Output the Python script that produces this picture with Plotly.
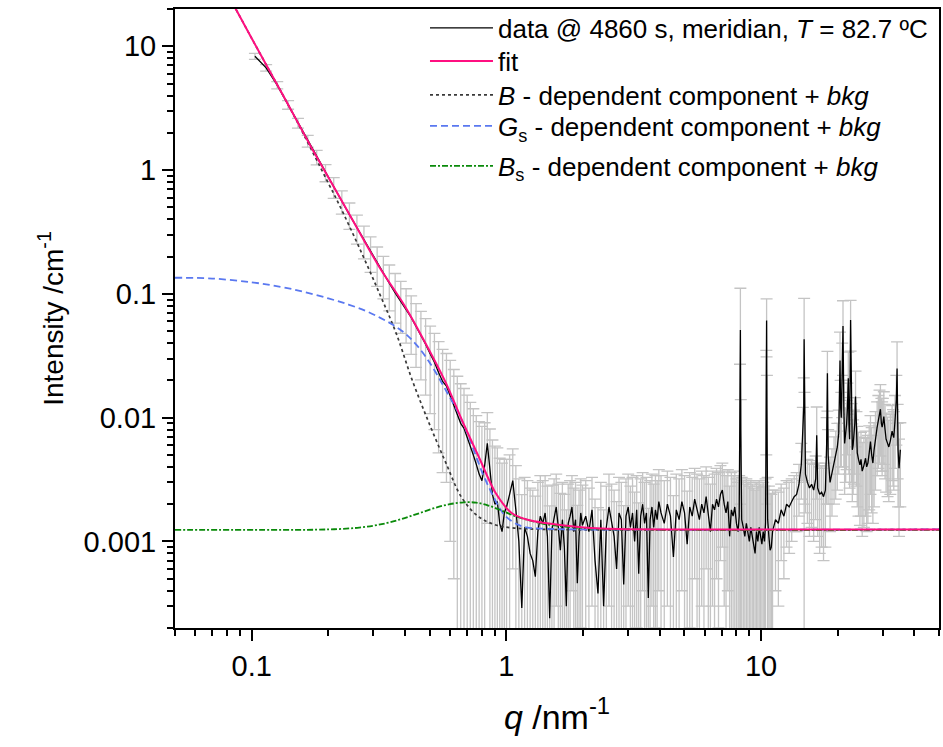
import math
import plotly.graph_objects as go

# ---------------- measured data (q in nm^-1, I in cm^-1) ----------------
q_low = [0.103, 0.114, 0.126, 0.139, 0.152, 0.166, 0.180, 0.195, 0.210, 0.226,
         0.242, 0.259, 0.276, 0.293, 0.311, 0.329, 0.347, 0.366, 0.385, 0.404,
         0.423, 0.442, 0.462, 0.482, 0.502, 0.522, 0.542, 0.562, 0.582, 0.602,
         0.622, 0.642, 0.662, 0.682, 0.702, 0.722, 0.742, 0.762, 0.782, 0.802,
         0.822, 0.842, 0.862, 0.882, 0.902, 0.922, 0.942, 0.962, 0.982, 1.002]
I_low = [8.3, 6.7, 4.85, 3.37, 2.40, 1.72, 1.27, 0.955, 0.73, 0.56,
         0.437, 0.342, 0.272, 0.219, 0.177, 0.146, 0.122, 0.102, 0.087, 0.075,
         0.0645, 0.0545, 0.0462, 0.0392, 0.0328, 0.0280, 0.0232, 0.0196, 0.0180, 0.0150,
         0.0125, 0.0106, 0.0090, 0.0082, 0.0070, 0.0058, 0.0050, 0.0042, 0.0035, 0.0031,
         0.0041, 0.0062, 0.0036, 0.0024, 0.0020, 0.0021, 0.0014, 0.0012, 0.0017, 0.0019]
err_low = [0.45, 0.40, 0.33, 0.27, 0.22, 0.19, 0.17, 0.15, 0.14, 0.12,
           0.105, 0.09, 0.08, 0.07, 0.062, 0.055, 0.049, 0.044, 0.039, 0.035,
           0.032, 0.029, 0.026, 0.024, 0.022, 0.020, 0.018, 0.016, 0.015, 0.014,
           0.012, 0.011, 0.0098, 0.009, 0.0082, 0.0075, 0.0068, 0.0062, 0.0058, 0.0054,
           0.005, 0.0048, 0.0045, 0.0042, 0.0039, 0.0036, 0.0033, 0.0031, 0.0029, 0.0027]

q_mid1 = [1.03, 1.06, 1.09, 1.12, 1.15, 1.18, 1.21, 1.24, 1.27, 1.30, 1.33,
          1.36, 1.39, 1.42, 1.45, 1.48, 1.51, 1.54, 1.57, 1.60, 1.63, 1.66,
          1.69, 1.72, 1.75, 1.78, 1.81, 1.84, 1.87, 1.90, 1.93, 1.96, 1.99]
I_mid1 = [2.4e-3, 3.1e-3, 1.8e-3, 1.0e-3, 0.29e-3, 1.3e-3, 1.1e-3, 0.8e-3, 0.7e-3, 0.52e-3, 1.2e-3,
          1.6e-3, 1.4e-3, 1.7e-3, 1.1e-3, 0.24e-3, 1.25e-3, 1.6e-3, 1.9e-3, 1.3e-3, 0.85e-3, 1.5e-3,
          0.9e-3, 0.3e-3, 1.4e-3, 1.6e-3, 1.9e-3, 1.2e-3, 1.5e-3, 0.46e-3, 1.1e-3, 1.7e-3, 1.35e-3]
err_mid1 = [2.6e-3, 2.5e-3, 2.3e-3, 2.2e-3, 2.1e-3, 2.0e-3, 2.0e-3, 1.9e-3, 1.9e-3, 1.8e-3, 1.8e-3,
            1.8e-3, 1.7e-3, 1.7e-3, 1.7e-3, 1.7e-3, 1.6e-3, 1.6e-3, 1.6e-3, 1.6e-3, 1.6e-3, 1.5e-3,
            1.5e-3, 1.5e-3, 1.5e-3, 1.5e-3, 1.5e-3, 1.5e-3, 1.5e-3, 1.5e-3, 1.5e-3, 1.5e-3, 1.5e-3]

q_mid2 = [2.05, 2.11, 2.17, 2.23, 2.29, 2.35, 2.41, 2.47, 2.53, 2.59, 2.65,
          2.71, 2.77, 2.83, 2.89, 2.95, 3.01, 3.07, 3.13, 3.19, 3.25, 3.31,
          3.37, 3.43, 3.49, 3.55, 3.61, 3.67, 3.73, 3.79, 3.85, 3.91, 3.97]
I_mid2 = [1.6e-3, 1.2e-3, 1.8e-3, 0.7e-3, 0.38e-3, 1.5e-3, 0.3e-3, 1.3e-3, 1.9e-3, 1.4e-3, 1.1e-3,
          0.6e-3, 1.7e-3, 1.5e-3, 0.45e-3, 1.6e-3, 1.9e-3, 1.3e-3, 1.7e-3, 1.0e-3, 1.8e-3, 0.55e-3,
          1.6e-3, 2.0e-3, 1.4e-3, 1.7e-3, 0.35e-3, 1.5e-3, 1.9e-3, 1.3e-3, 1.8e-3, 1.5e-3, 2.1e-3]
err_mid2 = [1.5e-3, 1.5e-3, 1.5e-3, 1.5e-3, 1.5e-3, 1.5e-3, 1.5e-3, 1.5e-3, 1.6e-3, 1.5e-3, 1.5e-3,
            1.5e-3, 1.6e-3, 1.5e-3, 1.5e-3, 1.6e-3, 1.6e-3, 1.5e-3, 1.6e-3, 1.5e-3, 1.6e-3, 1.5e-3,
            1.6e-3, 1.6e-3, 1.6e-3, 1.6e-3, 1.5e-3, 1.6e-3, 1.6e-3, 1.6e-3, 1.6e-3, 1.6e-3, 1.7e-3]

q_mid3 = [4.05, 4.17, 4.29, 4.41, 4.53, 4.65, 4.77, 4.89, 5.01, 5.13, 5.25, 5.37,
          5.49, 5.61, 5.73, 5.85, 5.97, 6.09, 6.21, 6.33, 6.45, 6.57, 6.69, 6.81,
          6.93, 7.05, 7.17, 7.29, 7.41, 7.53, 7.65, 7.77, 7.89, 8.01]
I_mid3 = [1.7e-3, 1.4e-3, 2.0e-3, 1.6e-3, 0.75e-3, 1.8e-3, 1.5e-3, 2.1e-3, 1.7e-3, 0.95e-3, 1.9e-3, 1.6e-3,
          2.2e-3, 1.8e-3, 1.5e-3, 2.0e-3, 1.7e-3, 2.3e-3, 1.6e-3, 1.2e-3, 2.0e-3, 1.8e-3, 2.2e-3, 1.9e-3,
          2.4e-3, 2.6e-3, 2.0e-3, 1.7e-3, 2.1e-3, 1.1e-3, 1.8e-3, 1.6e-3, 1.9e-3, 1.4e-3]
err_mid3 = [1.7e-3, 1.7e-3, 1.7e-3, 1.7e-3, 1.6e-3, 1.7e-3, 1.7e-3, 1.7e-3, 1.7e-3, 1.6e-3, 1.7e-3, 1.7e-3,
            1.7e-3, 1.7e-3, 1.7e-3, 1.7e-3, 1.7e-3, 1.7e-3, 1.7e-3, 1.7e-3, 1.7e-3, 1.7e-3, 1.7e-3, 1.7e-3,
            1.7e-3, 1.7e-3, 1.7e-3, 1.7e-3, 1.7e-3, 1.7e-3, 1.8e-3, 1.8e-3, 1.8e-3, 1.8e-3]

q_mid4 = [8.13, 8.21, 8.27, 8.30, 8.33, 8.40, 8.52, 8.64, 8.76, 8.88, 9.00, 9.12,
          9.24, 9.36, 9.48, 9.60, 9.72, 9.84, 9.96, 10.08, 10.20, 10.32, 10.42,
          10.49, 10.52, 10.55, 10.62, 10.74, 10.86, 10.98, 11.10]
I_mid4 = [1.2e-3, 1.6e-3, 15e-3, 51e-3, 8e-3, 1.5e-3, 1.3e-3, 1.1e-3, 1.4e-3, 1.2e-3, 1.0e-3, 1.3e-3,
          1.1e-3, 0.9e-3, 0.8e-3, 1.2e-3, 1.0e-3, 1.3e-3, 1.1e-3, 0.95e-3, 1.2e-3, 1.0e-3, 1.4e-3,
          20e-3, 61e-3, 12e-3, 1.5e-3, 1.1e-3, 0.85e-3, 0.9e-3, 1.2e-3]
err_mid4 = [1.8e-3, 1.8e-3, 12e-3, 60e-3, 6e-3, 1.8e-3, 1.8e-3, 1.8e-3, 1.8e-3, 1.8e-3, 1.8e-3, 1.8e-3,
            1.8e-3, 1.8e-3, 1.8e-3, 1.8e-3, 1.8e-3, 1.8e-3, 1.8e-3, 1.8e-3, 1.8e-3, 1.8e-3, 1.8e-3,
            15e-3, 30e-3, 10e-3, 1.8e-3, 1.7e-3, 1.6e-3, 1.5e-3, 1.4e-3]

q_high = [11.4, 11.7, 12.0, 12.3, 12.6, 12.9, 13.2, 13.5, 13.8, 14.1, 14.4, 14.6, 14.72, 14.77,
          14.82, 14.95, 15.22, 15.5, 15.8, 16.1, 16.4, 16.55, 16.7, 17.0, 17.3, 17.6, 17.9,
          18.1, 18.23, 18.35, 18.67, 19.0, 19.36, 19.65, 19.94, 20.2, 20.43, 20.55, 20.67,
          20.85, 20.99, 21.15, 21.3, 21.5, 21.68, 21.85, 22.02, 22.15, 22.28, 22.48, 22.65,
          22.83, 23.0, 23.17, 23.35, 23.51, 23.7, 23.88, 24.15, 24.46, 24.7, 24.97, 25.35,
          25.73, 26.0, 26.29, 26.6, 26.91, 27.2, 27.5, 27.8, 28.15, 28.58, 28.9, 29.2,
          29.44, 29.7, 29.9, 30.1, 30.36, 30.7, 30.99, 31.4, 31.76, 32.2, 32.72, 33.0,
          33.22, 33.6, 34.0, 34.22, 34.4, 34.53, 34.84, 35.25]
I_high = [1.5e-3, 1.4e-3, 1.8e-3, 1.6e-3, 2.0e-3, 1.9e-3, 2.1e-3, 2.3e-3, 2.4e-3, 2.9e-3, 4.2e-3, 7.6e-3, 12e-3, 43e-3,
          9e-3, 3.5e-3, 3.0e-3, 2.7e-3, 2.9e-3, 2.6e-3, 3.2e-3, 7.2e-3, 2.7e-3, 2.4e-3, 2.5e-3, 2.3e-3, 2.6e-3,
          6.0e-3, 22.8e-3, 5.0e-3, 3.0e-3, 3.6e-3, 4.5e-3, 5.0e-3, 5.8e-3, 7.5e-3, 29e-3, 12e-3, 10e-3,
          25e-3, 55e-3, 12e-3, 6.2e-3, 7.5e-3, 8.8e-3, 12e-3, 20.8e-3, 9e-3, 6.7e-3, 61.5e-3, 8e-3,
          5.5e-3, 6.0e-3, 7.2e-3, 9e-3, 14.8e-3, 7e-3, 5.2e-3, 4.6e-3, 4.15e-3, 4.6e-3, 3.7e-3, 4.1e-3,
          4.7e-3, 4.0e-3, 4.3e-3, 5.2e-3, 6.4e-3, 5.0e-3, 4.3e-3, 5.5e-3, 6.9e-3, 8.4e-3, 9.5e-3, 10.5e-3,
          11.7e-3, 9.0e-3, 8.4e-3, 9.0e-3, 10.2e-3, 8.0e-3, 6.7e-3, 6.2e-3, 5.8e-3, 6.5e-3, 7.8e-3, 7.2e-3,
          6.9e-3, 9.5e-3, 14e-3, 25e-3, 8e-3, 5.5e-3, 3.9e-3, 5.5e-3]
err_high = [1.1e-3, 1.1e-3, 1.1e-3, 1.1e-3, 1.1e-3, 1.1e-3, 1.1e-3, 1.1e-3, 1.2e-3, 1.3e-3, 2.0e-3, 4.5e-3, 9e-3, 49e-3,
            7e-3, 1.8e-3, 1.6e-3, 1.6e-3, 1.6e-3, 1.6e-3, 1.7e-3, 5.0e-3, 1.6e-3, 1.6e-3, 1.6e-3, 1.6e-3, 1.7e-3,
            4.0e-3, 11.5e-3, 3.0e-3, 1.8e-3, 2.0e-3, 2.5e-3, 2.8e-3, 3.2e-3, 4.0e-3, 20e-3, 8e-3, 6e-3,
            15e-3, 33e-3, 8e-3, 3.8e-3, 4.5e-3, 5.0e-3, 7e-3, 13e-3, 5.5e-3, 4.0e-3, 27e-3, 5.0e-3,
            3.4e-3, 3.6e-3, 4.3e-3, 5.5e-3, 9e-3, 4.2e-3, 3.3e-3, 3.0e-3, 2.8e-3, 3.0e-3, 2.6e-3, 2.8e-3,
            3.1e-3, 2.8e-3, 2.9e-3, 3.4e-3, 4.0e-3, 3.3e-3, 2.9e-3, 3.6e-3, 4.3e-3, 5.0e-3, 5.6e-3, 6.2e-3,
            6.8e-3, 5.3e-3, 5.0e-3, 5.3e-3, 6.0e-3, 4.8e-3, 4.2e-3, 3.9e-3, 3.7e-3, 4.1e-3, 4.7e-3, 4.4e-3,
            4.3e-3, 5.6e-3, 8.0e-3, 16e-3, 4.8e-3, 3.6e-3, 2.8e-3, 3.6e-3]

q_data = q_low + q_mid1 + q_mid2 + q_mid3 + q_mid4 + q_high
I_data = I_low + I_mid1 + I_mid2 + I_mid3 + I_mid4 + I_high
err_data = err_low + err_mid1 + err_mid2 + err_mid3 + err_mid4 + err_high

# ---------------- model curves ----------------
q_fit = [0.078, 0.0866, 0.10, 0.12, 0.14, 0.172, 0.20, 0.25, 0.317, 0.397, 0.467,
         0.579, 0.669, 0.78, 0.908, 1.049, 1.223, 1.42, 1.92, 2.75, 5.0, 50.0]
I_fit = [29, 20, 11.6, 5.87, 3.29, 1.51, 0.875, 0.39, 0.165, 0.0813, 0.0449,
         0.0191, 0.00958, 0.00481, 0.00246, 0.0017, 0.00149, 0.00141, 0.00131, 0.00126, 0.00125, 0.00125]

q_B = [0.078, 0.0866, 0.10, 0.12, 0.14, 0.172, 0.20, 0.221, 0.265, 0.317, 0.369, 0.427,
       0.497, 0.579, 0.669, 0.78, 0.908, 1.049, 1.5, 50.0]
I_B = [29, 20, 11.6, 5.87, 3.29, 1.45, 0.785, 0.522, 0.2346, 0.1016, 0.0483, 0.0201,
       0.00906, 0.00431, 0.00225, 0.00158, 0.00136, 0.00129, 0.00125, 0.00125]

q_Gs = [0.05, 0.07, 0.10, 0.13, 0.16, 0.20, 0.24, 0.28, 0.32, 0.36, 0.40, 0.44, 0.48,
        0.52, 0.56, 0.60, 0.64, 0.68, 0.72, 0.76, 0.80, 0.85, 0.90, 0.95, 1.0, 1.1,
        1.2, 1.4, 2.0, 50.0]
I_Gs = [0.135, 0.133, 0.124, 0.114, 0.104, 0.092, 0.082, 0.073, 0.064, 0.056, 0.048, 0.0395, 0.0315,
        0.0245, 0.0188, 0.0146, 0.0115, 0.0088, 0.0066, 0.0049, 0.0037, 0.0028, 0.0022, 0.0018, 0.00158, 0.00138,
        0.0013, 0.00127, 0.00125, 0.00125]

q_Bs = [0.05, 0.12, 0.18, 0.22, 0.26, 0.30, 0.34, 0.38, 0.42, 0.47, 0.53, 0.60,
        0.68, 0.76, 0.85, 0.95, 1.05, 1.2, 1.4, 1.7, 2.2, 3.0, 5.0, 50.0]
I_Bs = [0.00124, 0.00124, 0.001245, 0.00126, 0.00129, 0.00134, 0.00141, 0.0015, 0.0016, 0.00173, 0.00188, 0.002,
        0.00207, 0.00206, 0.00195, 0.00179, 0.00164, 0.0015, 0.00139, 0.00132, 0.00127, 0.00125, 0.00124, 0.00124]

x_major = [0.1, 1, 10]
x_major_text = ["0.1", "1", "10"]
x_minor = [0.05, 0.06, 0.07, 0.08, 0.09, 0.2, 0.3, 0.4, 0.5, 0.6, 0.7, 0.8, 0.9,
           2, 3, 4, 5, 6, 7, 8, 9, 20, 30, 40, 50]
y_major = [0.001, 0.01, 0.1, 1, 10]
y_major_text = ["0.001", "0.01", "0.1", "1", "10"]
y_minor = [0.0002, 0.0003, 0.0004, 0.0005, 0.0006, 0.0007, 0.0008, 0.0009,
           0.002, 0.003, 0.004, 0.005, 0.006, 0.007, 0.008, 0.009,
           0.02, 0.03, 0.04, 0.05, 0.06, 0.07, 0.08, 0.09,
           0.2, 0.3, 0.4, 0.5, 0.6, 0.7, 0.8, 0.9,
           2, 3, 4, 5, 6, 7, 8, 9, 20]

FONT = "Liberation Sans, Arial, sans-serif"

fig = go.Figure()

# error bars (behind everything)
fig.add_trace(go.Scatter(
    x=q_data, y=I_data, mode="markers",
    marker=dict(size=1, color="rgba(0,0,0,0)"),
    error_y=dict(type="data", array=err_data, visible=True,
                 color="#c4c4c4", thickness=1.3, width=6),
    showlegend=False, hoverinfo="skip"))

fig.add_trace(go.Scatter(
    x=q_data, y=I_data, mode="lines",
    line=dict(color="black", width=1.3),
    name="data @ 4860 s, meridian, <i>T</i> = 82.7 ºC", legend="legend"))

fig.add_trace(go.Scatter(
    x=q_B, y=I_B, mode="lines", line=dict(color="#3a3a3a", width=1.7, dash="dot", shape="spline", smoothing=1.0),
    name="<i>B</i> - dependent component + <i>bkg</i>", legend="legend3"))

fig.add_trace(go.Scatter(
    x=q_Gs, y=I_Gs, mode="lines", line=dict(color="#5a78f0", width=1.8, dash="7px,4px", shape="spline", smoothing=1.0),
    name="<i>G</i><sub>s</sub> - dependent component + <i>bkg</i>", legend="legend4"))

fig.add_trace(go.Scatter(
    x=q_Bs, y=I_Bs, mode="lines", line=dict(color="#0a8a0a", width=1.8, dash="6px,2px,2px,2px", shape="spline", smoothing=1.0),
    name="<i>B</i><sub>s</sub> - dependent component + <i>bkg</i>", legend="legend5"))

fig.add_trace(go.Scatter(
    x=q_fit, y=I_fit, mode="lines", line=dict(color="#ff0f80", width=2.0, shape="spline", smoothing=0.8),
    name="fit", legend="legend2"))

axis_common = dict(
    type="log", showgrid=False, zeroline=False,
    showline=True, linewidth=2, linecolor="black", mirror=True,
    ticks="outside", ticklen=11, tickwidth=2, tickcolor="black",
    tickfont=dict(family=FONT, size=29, color="black"),
)

fig.update_xaxes(
    **axis_common,
    range=[math.log10(0.05), math.log10(50)],
    tickmode="array", tickvals=x_major, ticktext=x_major_text,
    minor=dict(tickmode="array", tickvals=x_minor, ticks="outside", ticklen=6,
               tickwidth=2, tickcolor="black", showgrid=False),
    title=dict(text="<i>q</i> /nm<sup>-1</sup>", font=dict(family=FONT, size=34, color="black"), standoff=24),
)
fig.update_yaxes(
    **axis_common,
    range=[math.log10(0.0002), math.log10(20)],
    tickmode="array", tickvals=y_major, ticktext=y_major_text,
    minor=dict(tickmode="array", tickvals=y_minor, ticks="outside", ticklen=6,
               tickwidth=2, tickcolor="black", showgrid=False),
    title=dict(text="Intensity /cm<sup>-1</sup>", font=dict(family=FONT, size=28, color="black"), standoff=12),
)

# one single-entry legend per row, so rows sit where the reference puts them
legend_rows = {"legend": 0.9692, "legend2": 0.916, "legend3": 0.861,
               "legend4": 0.811, "legend5": 0.7464}
legend_layout = {}
for key, ypos in legend_rows.items():
    legend_layout[key] = dict(
        x=0.3272, xanchor="left", y=ypos, yanchor="middle",
        bgcolor="rgba(0,0,0,0)", borderwidth=0,
        font=dict(family=FONT, size=26, color="black"),
        itemwidth=63)

fig.update_layout(
    width=943, height=747,
    margin=dict(l=175, r=2, t=9, b=119),
    paper_bgcolor="white", plot_bgcolor="white",
    font=dict(family=FONT, color="black"),
    showlegend=True,
    **legend_layout,
)

fig.write_html("out.html")
